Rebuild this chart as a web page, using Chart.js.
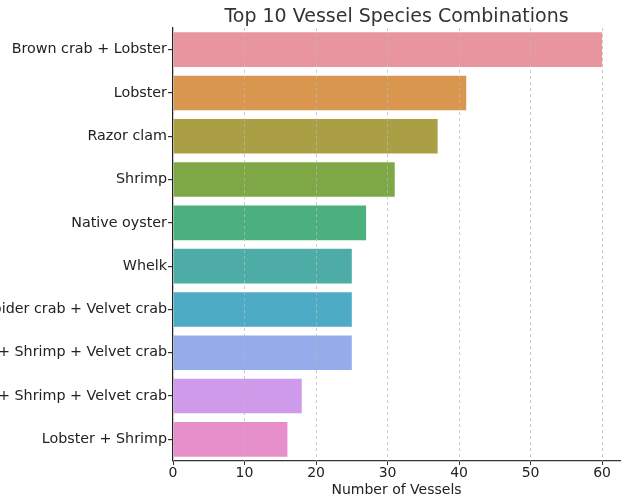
<!DOCTYPE html>
<html>
<head>
<meta charset="utf-8">
<script src="https://cdn.jsdelivr.net/npm/chart.js@4.4.0/dist/chart.umd.min.js"></script>
<style>
  html, body { margin: 0; padding: 0; background: #fff; }
  #wrap { width: 621px; height: 499px; }
</style>
</head>
<body>
<div id="wrap"><canvas id="chart" width="621" height="499"></canvas></div>
<script>
// species combinations, top to bottom
var combos = [
  'Brown crab + Lobster',
  'Lobster',
  'Razor clam',
  'Shrimp',
  'Native oyster',
  'Whelk',
  'Brown crab + Spider crab + Velvet crab',
  'Lobster + Shrimp + Velvet crab',
  'Brown crab + Shrimp + Velvet crab',
  'Lobster + Shrimp'
];
var vessels = [60, 41, 37, 31, 27, 25, 25, 25, 18, 16];
var barColors = [
  '#e8959f', '#d8964f', '#ab9f45', '#7ea846', '#4bb07e',
  '#4daca6', '#4eabc6', '#94adea', '#cf9ae9', '#e78fcb'
];
var xTicks = [0, 10, 20, 30, 40, 50, 60];

var font = "'DejaVu Sans', sans-serif";
var ctx = document.getElementById('chart').getContext('2d');

function fixTicks(scale){
  scale.ticks = xTicks.map(function(v){ return { value: v }; });
}

new Chart(ctx, {
  type: 'bar',
  data: {
    labels: combos,
    datasets: [{
      data: vessels,
      backgroundColor: barColors,
      borderWidth: 0,
      barPercentage: 0.8,
      categoryPercentage: 1.0
    }]
  },
  options: {
    indexAxis: 'y',
    responsive: false,
    animation: false,
    layout: { padding: { left: 0, right: 1, top: 0, bottom: 0 } },
    plugins: {
      legend: { display: false },
      tooltip: { enabled: false },
      title: { display: false }
    },
    scales: {
      // top axis carries the title (centred over the plot) and the dashed grid drawn over the bars
      top: {
        position: 'top',
        type: 'linear',
        min: 0,
        max: 62.5,
        afterBuildTicks: fixTicks,
        afterFit: function(scale){ scale.height = 28; },
        grid: {
          display: true,
          drawTicks: false,
          color: 'rgba(185,185,185,0.75)',
          lineWidth: 1,
          z: 1
        },
        border: { display: false, dash: [3, 3] },
        ticks: { display: false },
        title: {
          display: true,
          text: 'Top 10 Vessel Species Combinations',
          color: '#333',
          padding: { top: 6, bottom: 0 },
          font: { family: font, size: 19 }
        }
      },
      x: {
        min: 0,
        max: 62.5,
        afterBuildTicks: fixTicks,
        afterFit: function(scale){ scale.height = 38; },
        grid: {
          drawOnChartArea: false,
          drawTicks: true,
          tickLength: 4,
          color: '#333',
          tickColor: '#333'
        },
        border: { display: true, color: '#333', width: 1.2 },
        ticks: {
          color: '#222',
          padding: 0,
          font: { family: font, size: 14 }
        },
        title: {
          display: true,
          text: 'Number of Vessels',
          color: '#222',
          padding: { top: 0, bottom: 0 },
          font: { family: font, size: 14 }
        }
      },
      y: {
        afterFit: function(scale){ scale.width = 173; },
        grid: {
          display: true,
          offset: false,
          drawOnChartArea: false,
          drawTicks: true,
          tickLength: 5,
          lineWidth: 1.2,
          color: '#333',
          tickColor: '#333'
        },
        border: { display: true, color: '#222', width: 1.2 },
        ticks: {
          color: '#222',
          padding: 1,
          font: { family: font, size: 14.3 }
        }
      }
    }
  }
});
</script>
</body>
</html>
